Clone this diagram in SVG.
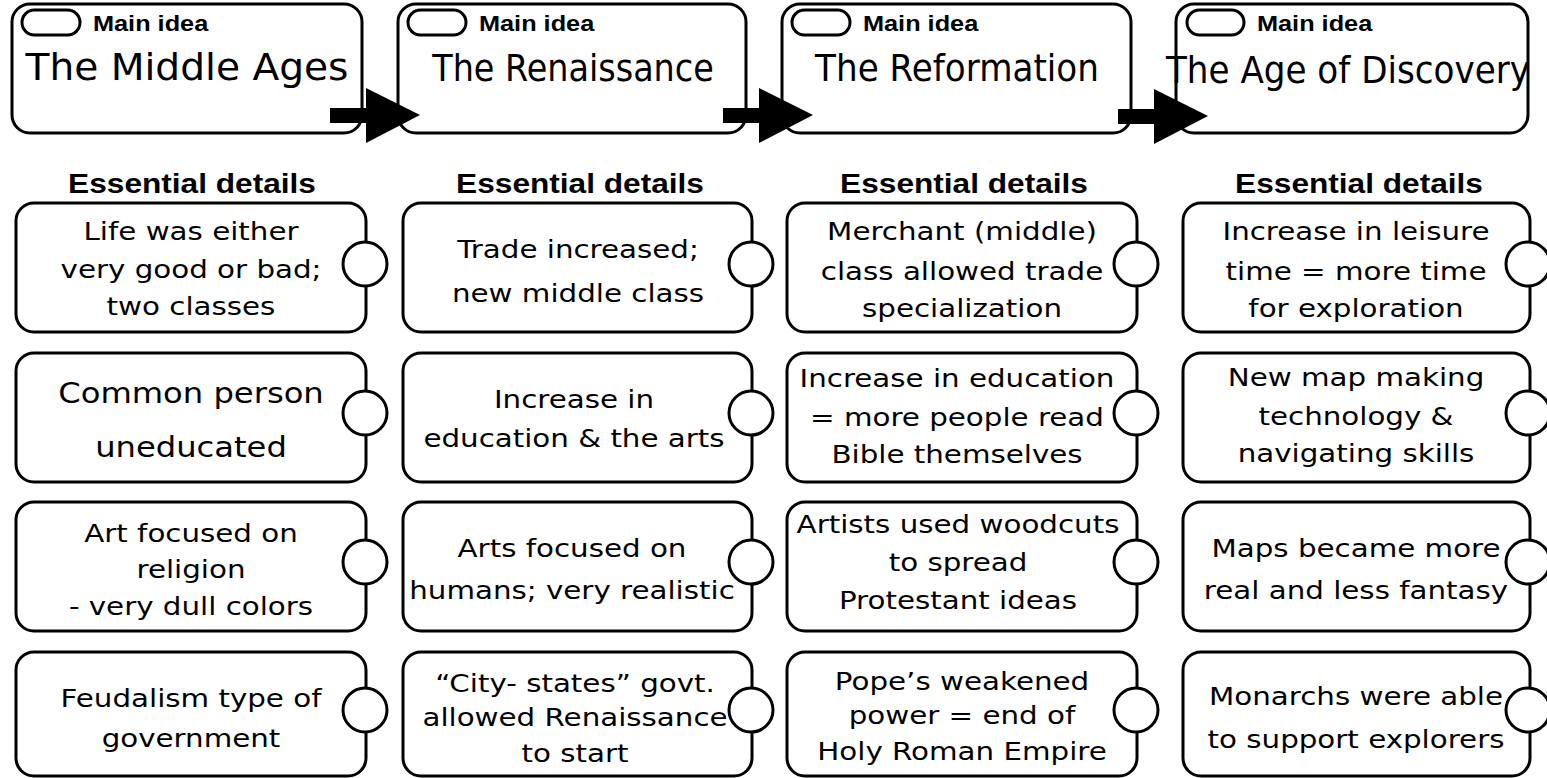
<svg xmlns="http://www.w3.org/2000/svg" xmlns:xlink="http://www.w3.org/1999/xlink" width="1547" height="778" viewBox="0 0 1547 778">
<style>
.box{fill:#fff;stroke:#000;stroke-width:3}
.tab{fill:#fff;stroke:#000;stroke-width:3}
.t{font-family:"DejaVu Sans",sans-serif;font-size:25.5px;text-anchor:middle;fill:#000}
.big{font-size:28px}
.title{font-family:"DejaVu Sans",sans-serif;font-size:38px;text-anchor:middle;fill:#000}
.h{font-family:"Liberation Sans",Arial,sans-serif;font-weight:bold;font-size:27.5px;text-anchor:middle;fill:#000}
.ml{font-family:"Liberation Sans",Arial,sans-serif;font-weight:bold;font-size:22px;fill:#000}
.arrow{fill:#000}
</style>
<defs>
<polygon id="fat-arrow" class="arrow" points="0,0 36,0 36,-20 90,7 36,35 36,15 0,15"/>
</defs>
<rect width="1547" height="778" fill="#fff"/>

<!-- Main idea nodes -->
<g id="main1">
<rect class="box" x="12" y="4" width="350" height="129" rx="18"/>
<rect class="tab" x="22" y="10" width="58" height="25" rx="12.5"/>
<text class="ml" transform="matrix(1.15 0 0 1 93 31)">Main idea</text>
<text class="title" transform="matrix(1.03 0 0 1 187 80)">The Middle Ages</text>
</g>
<g id="main2">
<rect class="box" x="398" y="4" width="348" height="129" rx="18"/>
<rect class="tab" x="408" y="10" width="58" height="25" rx="12.5"/>
<text class="ml" transform="matrix(1.15 0 0 1 479 31)">Main idea</text>
<text class="title" transform="matrix(0.88 0 0 1 573 81)">The Renaissance</text>
</g>
<g id="main3">
<rect class="box" x="782" y="4" width="349" height="129" rx="18"/>
<rect class="tab" x="792" y="10" width="58" height="25" rx="12.5"/>
<text class="ml" transform="matrix(1.15 0 0 1 863 31)">Main idea</text>
<text class="title" transform="matrix(0.9 0 0 1 957 81)">The Reformation</text>
</g>
<g id="main4">
<rect class="box" x="1176" y="4" width="352" height="129" rx="18"/>
<rect class="tab" x="1187" y="10" width="57" height="25" rx="12.5"/>
<text class="ml" transform="matrix(1.15 0 0 1 1257 31)">Main idea</text>
<text class="title" transform="matrix(0.9 0 0 1 1348 83)">The Age of Discovery</text>
</g>

<!-- Headers -->
<g id="headers">
<text class="h" transform="matrix(1.15 0 0 1 192 193)">Essential details</text>
<text class="h" transform="matrix(1.15 0 0 1 580 193)">Essential details</text>
<text class="h" transform="matrix(1.15 0 0 1 964 193)">Essential details</text>
<text class="h" transform="matrix(1.15 0 0 1 1359 193)">Essential details</text>
</g>

<!-- Column 1 -->
<g id="d11">
<rect class="box" x="16" y="203" width="350" height="129" rx="18"/>
<circle class="tab" cx="365" cy="264" r="22"/>
<text class="t" transform="matrix(1.15 0 0 1 191 0)"><tspan x="0" y="240">Life was either</tspan><tspan x="0" y="278">very good or bad;</tspan><tspan x="0" y="315">two classes</tspan></text>
</g>
<g id="d12">
<rect class="box" x="16" y="353" width="350" height="129" rx="18"/>
<circle class="tab" cx="365" cy="413" r="22"/>
<text class="t big" transform="matrix(1.15 0 0 1 191 0)"><tspan x="0" y="403">Common person</tspan><tspan x="0" y="457">uneducated</tspan></text>
</g>
<g id="d13">
<rect class="box" x="16" y="502" width="350" height="129" rx="18"/>
<circle class="tab" cx="365" cy="562" r="22"/>
<text class="t" transform="matrix(1.15 0 0 1 191 0)"><tspan x="0" y="542">Art focused on</tspan><tspan x="0" y="578">religion</tspan><tspan x="0" y="615">- very dull colors</tspan></text>
</g>
<g id="d14">
<rect class="box" x="16" y="652" width="350" height="124" rx="18"/>
<circle class="tab" cx="365" cy="710" r="22"/>
<text class="t" transform="matrix(1.15 0 0 1 191 0)"><tspan x="0" y="707">Feudalism type of</tspan><tspan x="0" y="747">government</tspan></text>
</g>

<!-- Column 2 -->
<g id="d21">
<rect class="box" x="403" y="203" width="349" height="129" rx="18"/>
<circle class="tab" cx="751" cy="264" r="22"/>
<text class="t" transform="matrix(1.15 0 0 1 578 0)"><tspan x="0" y="258">Trade increased;</tspan><tspan x="0" y="302">new middle class</tspan></text>
</g>
<g id="d22">
<rect class="box" x="403" y="353" width="349" height="129" rx="18"/>
<circle class="tab" cx="751" cy="413" r="22"/>
<text class="t" transform="matrix(1.15 0 0 1 574 0)"><tspan x="0" y="408">Increase in</tspan><tspan x="0" y="447">education &amp; the arts</tspan></text>
</g>
<g id="d23">
<rect class="box" x="403" y="502" width="349" height="129" rx="18"/>
<circle class="tab" cx="751" cy="562" r="22"/>
<text class="t" transform="matrix(1.15 0 0 1 572 0)"><tspan x="0" y="557">Arts focused on</tspan><tspan x="0" y="599">humans; very realistic</tspan></text>
</g>
<g id="d24">
<rect class="box" x="403" y="652" width="349" height="124" rx="18"/>
<circle class="tab" cx="751" cy="710" r="22"/>
<text class="t" transform="matrix(1.15 0 0 1 575 0)"><tspan x="0" y="692">“City- states” govt.</tspan><tspan x="0" y="726">allowed Renaissance</tspan><tspan x="0" y="762">to start</tspan></text>
</g>

<!-- Column 3 -->
<g id="d31">
<rect class="box" x="787" y="203" width="350" height="129" rx="18"/>
<circle class="tab" cx="1136" cy="264" r="22"/>
<text class="t" transform="matrix(1.15 0 0 1 962 0)"><tspan x="0" y="240">Merchant (middle)</tspan><tspan x="0" y="280">class allowed trade</tspan><tspan x="0" y="317">specialization</tspan></text>
</g>
<g id="d32">
<rect class="box" x="787" y="353" width="350" height="129" rx="18"/>
<circle class="tab" cx="1136" cy="413" r="22"/>
<text class="t" transform="matrix(1.15 0 0 1 957 0)"><tspan x="0" y="387">Increase in education</tspan><tspan x="0" y="426">= more people read</tspan><tspan x="0" y="463">Bible themselves</tspan></text>
</g>
<g id="d33">
<rect class="box" x="787" y="502" width="350" height="129" rx="18"/>
<circle class="tab" cx="1136" cy="562" r="22"/>
<text class="t" transform="matrix(1.15 0 0 1 958 0)"><tspan x="0" y="533">Artists used woodcuts</tspan><tspan x="0" y="571">to spread</tspan><tspan x="0" y="609">Protestant ideas</tspan></text>
</g>
<g id="d34">
<rect class="box" x="787" y="652" width="350" height="124" rx="18"/>
<circle class="tab" cx="1136" cy="710" r="22"/>
<text class="t" transform="matrix(1.15 0 0 1 962 0)"><tspan x="0" y="690">Pope’s weakened</tspan><tspan x="0" y="724">power = end of</tspan><tspan x="0" y="760">Holy Roman Empire</tspan></text>
</g>

<!-- Column 4 -->
<g id="d41">
<rect class="box" x="1183" y="203" width="347" height="129" rx="18"/>
<circle class="tab" cx="1528" cy="264" r="22"/>
<text class="t" transform="matrix(1.15 0 0 1 1356 0)"><tspan x="0" y="240">Increase in leisure</tspan><tspan x="0" y="280">time = more time</tspan><tspan x="0" y="317">for exploration</tspan></text>
</g>
<g id="d42">
<rect class="box" x="1183" y="353" width="347" height="129" rx="18"/>
<circle class="tab" cx="1528" cy="413" r="22"/>
<text class="t" transform="matrix(1.15 0 0 1 1356 0)"><tspan x="0" y="386">New map making</tspan><tspan x="0" y="425">technology &amp;</tspan><tspan x="0" y="462">navigating skills</tspan></text>
</g>
<g id="d43">
<rect class="box" x="1183" y="502" width="347" height="129" rx="18"/>
<circle class="tab" cx="1528" cy="562" r="22"/>
<text class="t" transform="matrix(1.15 0 0 1 1356 0)"><tspan x="0" y="557">Maps became more</tspan><tspan x="0" y="599">real and less fantasy</tspan></text>
</g>
<g id="d44">
<rect class="box" x="1183" y="652" width="347" height="124" rx="18"/>
<circle class="tab" cx="1528" cy="710" r="22"/>
<text class="t" transform="matrix(1.15 0 0 1 1356 0)"><tspan x="0" y="705">Monarchs were able</tspan><tspan x="0" y="748">to support explorers</tspan></text>
</g>

<!-- Connectors -->
<g id="connectors">
<use xlink:href="#fat-arrow" href="#fat-arrow" x="330" y="108"/>
<use xlink:href="#fat-arrow" href="#fat-arrow" x="723" y="108"/>
<use xlink:href="#fat-arrow" href="#fat-arrow" x="1118" y="109"/>
</g>
</svg>
